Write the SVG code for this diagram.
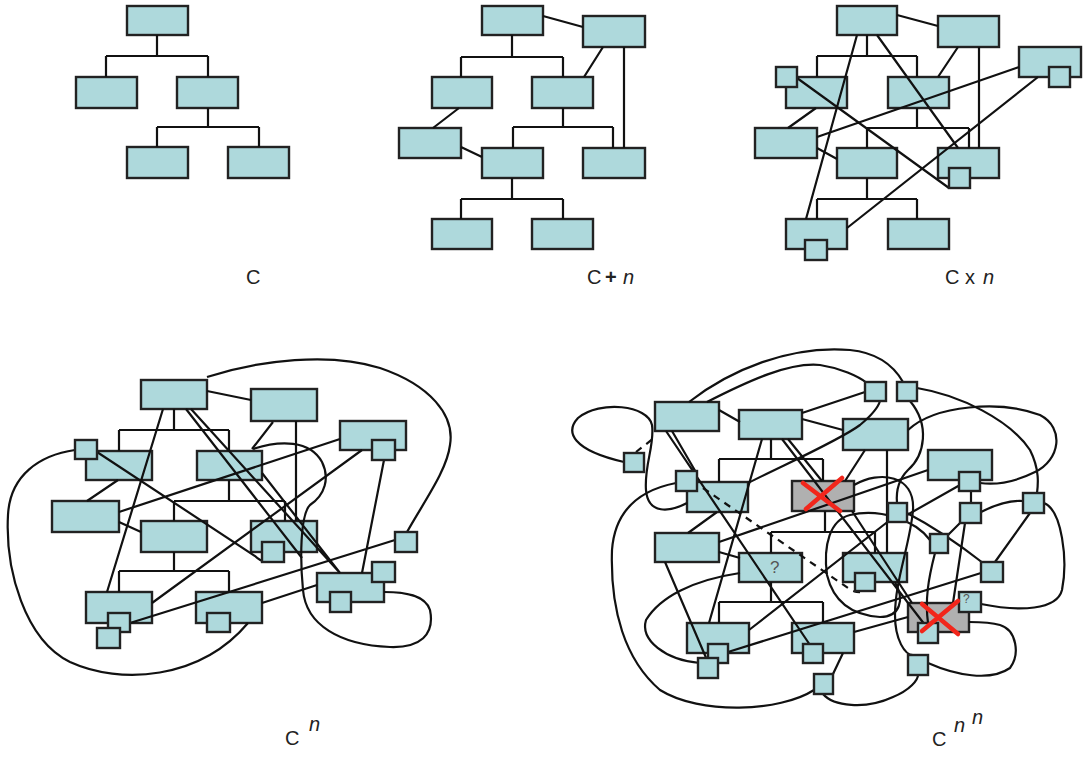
<svg xmlns="http://www.w3.org/2000/svg" width="1086" height="758" viewBox="0 0 1086 758">
<style>
.n{fill:#aed9dc;stroke:#222;stroke-width:2.4}
.g{fill:#b0b0b0;stroke:#222;stroke-width:2.4}
.c path{fill:none;stroke:#111;stroke-width:2.2}
.c .d{stroke-dasharray:7 6}
.x{stroke:#f2261b;stroke-width:4.5;stroke-linecap:round;fill:none}
.lbl{font-family:"Liberation Sans",Arial,sans-serif;font-size:20px;fill:#222}
.q{font-family:"Liberation Sans",Arial,sans-serif;fill:#555}
</style>
<rect width="1086" height="758" fill="#fff"/>

<!-- Panel 1 -->
<g id="p1-root"><rect class="n" x="127" y="6" width="61" height="29"/></g>
<g id="p1-a"><rect class="n" x="76" y="77" width="61" height="31"/></g>
<g id="p1-b"><rect class="n" x="177" y="77" width="61" height="31"/></g>
<g id="p1-c"><rect class="n" x="127" y="147" width="61" height="31"/></g>
<g id="p1-d"><rect class="n" x="228" y="147" width="61" height="31"/></g>

<!-- Panel 2 -->
<g id="p2-root"><rect class="n" x="482" y="6" width="61" height="29"/></g>
<g id="p2-tr"><rect class="n" x="583" y="16" width="62" height="31"/></g>
<g id="p2-lm"><rect class="n" x="432" y="77" width="60" height="31"/></g>
<g id="p2-rm"><rect class="n" x="532" y="77" width="61" height="31"/></g>
<g id="p2-l"><rect class="n" x="399" y="128" width="62" height="30"/></g>
<g id="p2-c"><rect class="n" x="482" y="148" width="61" height="30"/></g>
<g id="p2-r"><rect class="n" x="583" y="148" width="62" height="30"/></g>
<g id="p2-bl"><rect class="n" x="432" y="219" width="60" height="30"/></g>
<g id="p2-br"><rect class="n" x="532" y="219" width="61" height="30"/></g>

<!-- Panel 3 boxes -->
<g id="p3-root"><rect class="n" x="837" y="6" width="60" height="29"/></g>
<g id="p3-tr"><rect class="n" x="938" y="16" width="61" height="31"/></g>
<g id="p3-fr"><rect class="n" x="1019" y="47" width="62" height="30"/></g>
<g id="p3-lm"><rect class="n" x="786" y="77" width="61" height="31"/></g>
<g id="p3-rm"><rect class="n" x="888" y="77" width="61" height="31"/></g>
<g id="p3-l"><rect class="n" x="755" y="128" width="62" height="30"/></g>
<g id="p3-c"><rect class="n" x="837" y="148" width="60" height="30"/></g>
<g id="p3-r"><rect class="n" x="938" y="148" width="61" height="30"/></g>
<g id="p3-bl"><rect class="n" x="786" y="219" width="61" height="30"/></g>
<g id="p3-br"><rect class="n" x="888" y="219" width="61" height="30"/></g>

<!-- Panel 4 boxes -->
<g id="p4-root"><rect class="n" x="141" y="380" width="66" height="29"/></g>
<g id="p4-tr"><rect class="n" x="251" y="389" width="66" height="32"/></g>
<g id="p4-fr"><rect class="n" x="340" y="421" width="66" height="29"/></g>
<g id="p4-lm"><rect class="n" x="86" y="451" width="66" height="29"/></g>
<g id="p4-rm"><rect class="n" x="197" y="451" width="65" height="29"/></g>
<g id="p4-l"><rect class="n" x="52" y="501" width="67" height="31"/></g>
<g id="p4-c"><rect class="n" x="141" y="521" width="66" height="31"/></g>
<g id="p4-r"><rect class="n" x="251" y="521" width="66" height="31"/></g>
<g id="p4-bl"><rect class="n" x="86" y="592" width="66" height="31"/></g>
<g id="p4-br"><rect class="n" x="196" y="592" width="66" height="31"/></g>
<g id="p4-fb"><rect class="n" x="317" y="573" width="67" height="29"/></g>

<!-- Panel 5 boxes -->
<g id="p5-b1"><rect class="n" x="655" y="402" width="64" height="29"/></g>
<g id="p5-b2"><rect class="n" x="739" y="410" width="63" height="29"/></g>
<g id="p5-b3"><rect class="n" x="843" y="419" width="65" height="31"/></g>
<g id="p5-b4"><rect class="n" x="928" y="450" width="64" height="30"/></g>
<g id="p5-b5"><rect class="n" x="687" y="482" width="61" height="30"/></g>
<g id="p5-x1"><rect class="g" x="792" y="481" width="62" height="30"/></g>
<g id="p5-b6"><rect class="n" x="655" y="533" width="64" height="29"/></g>
<g id="p5-b7"><rect class="n" x="739" y="553" width="63" height="29"/><text class="q" x="770" y="573" font-size="17">?</text></g>
<g id="p5-b8"><rect class="n" x="843" y="553" width="64" height="29"/></g>
<g id="p5-b9"><rect class="n" x="687" y="623" width="62" height="30"/></g>
<g id="p5-b10"><rect class="n" x="792" y="623" width="62" height="30"/></g>
<g id="p5-x2"><rect class="g" x="908" y="603" width="61" height="29"/></g>

<g class="c" id="connectors">
<!-- panel 1 -->
<path d="M157,35V56M106,56H208M106,56V77M208,56V77M208,108V127M157,127H259M157,127V147M259,127V147"/>
<!-- panel 2 -->
<path d="M512,35V57M461,57H563M461,57V77M563,57V77M563,108V127M513,127H613M513,127V148M613,127V148M512,178V199M461,199H563M461,199V219M563,199V219"/>
<path d="M543,16L583,27M603,47L584,77M624,47V148M459,108L433,128M461,147L482,157"/>
<!-- panel 3 -->
<path d="M867,35V56M817,56H917M817,56V77M917,56V77M917,108V128M867,128H969M867,128V148M969,128V148M867,178V199M817,199H917M817,199V219M917,199V219"/>
<path d="M897,15L938,26M958,47L938,77M979,47V148M816,108L788,128M817,148L837,159"/>
<path d="M857,35L806,219M877,35L958,148M797,78L949,188M817,137L1019,67M847,228L1038,77"/>
<!-- panel 4 -->
<path d="M174,409V430M119,430H229M119,430V451M229,430V451M229,480V501M174,501H285M174,501V521M285,501V521M174,552V571M119,571H229M119,571V592M229,571V592"/>
<path d="M207,391L251,400M273,422L252,449M296,421V521M118,480L87,501M119,522L141,532"/>
<path d="M163,409L107,592M186,409L302,558M191,409L340,573M262,473L340,573"/>
<path d="M97,452L255,556Q260,561 266,562M119,512L340,439M152,603L362,450M384,460L362,573M130,623L395,540M262,603L317,585"/>
<path d="M207,377C260,360 330,352 380,368C430,385 455,415 450,445C447,470 425,500 407,532"/>
<path d="M75,450C40,455 10,475 8,515C5,570 25,640 70,662C120,685 200,680 248,623"/>
<path d="M253,449C280,440 310,440 322,462C330,478 325,495 310,505C300,515 300,560 303,590C306,625 340,645 390,647C420,648 435,635 430,610C425,595 405,592 384,592"/>
<!-- panel 5 tree -->
<path d="M771,439V459M719,459H823M719,459V482M823,459V481M825,511V532M771,532H875M771,532V553M875,532V553M887,450V553M771,582V602M719,602H823M719,602V623M823,602V623"/>
<!-- panel 5 links -->
<path d="M719,410L740,422M802,419L843,430M802,413L865,392"/>
<path d="M689,402C730,370 790,345 850,350C880,353 895,368 903,382"/>
<path d="M707,402C750,380 790,362 820,365C840,368 858,376 867,383"/>
<path d="M666,431L810,645M672,431L697,474M762,439L709,623M782,439L925,625M788,439L822,481M865,450L845,481M852,511L912,603"/>
<path d="M687,503C670,512 648,515 646,490C644,465 655,445 652,425C648,405 600,400 578,418C565,432 572,450 624,462"/>
<path class="d" d="M636,452L654,438"/>
<path d="M676,483C640,490 615,510 612,550C610,610 625,660 660,690C700,715 780,712 814,690"/>
<path class="d" d="M703,488L848,588Q855,593 862,592"/>
<path d="M717,512L688,533M719,542L928,470M719,552L740,558M665,562L707,660"/>
<path d="M748,483C790,462 840,440 860,425C872,415 878,408 880,401"/>
<path d="M740,573C693,580 660,597 646,620C640,640 665,660 700,663"/>
<path d="M749,630L890,520M728,652L981,573M854,632L908,617M843,653L833,674"/>
<path d="M823,694C833,706 865,710 893,697C910,690 918,680 918,675"/>
<path d="M928,663C955,675 990,682 1010,668C1020,655 1017,630 1000,625C990,622 978,622 969,622"/>
<path d="M854,485C880,470 915,475 913,510C910,545 895,580 895,615C895,640 905,655 913,655"/>
<path d="M908,430C935,405 1000,400 1040,415C1065,428 1060,460 1035,472C1015,482 995,485 980,483"/>
<path d="M917,388C960,395 1010,420 1030,450C1040,470 1038,485 1037,493"/>
<path d="M910,401C930,425 925,455 908,470C898,480 896,492 897,503"/>
<path d="M971,491V503M981,512C995,505 1010,500 1023,501M965,523L953,603M1030,513L995,562"/>
<path d="M1044,503C1062,510 1068,560 1062,590C1057,610 1020,612 981,604"/>
<path d="M907,513C930,525 960,545 983,563M960,485L907,515M962,521L948,535"/>
<path d="M930,540C915,520 880,508 850,515C830,520 823,545 827,575C833,600 850,615 880,617C900,617 905,600 895,582"/>
<path d="M935,553C928,580 925,600 928,623"/>
</g>

<!-- small square nodes -->
<g id="p3-fr-s"><rect class="n" x="1049" y="67" width="21" height="20"/></g>
<g id="p3-lm-s"><rect class="n" x="776" y="67" width="21" height="20"/></g>
<g id="p3-r-s"><rect class="n" x="949" y="168" width="21" height="20"/></g>
<g id="p3-bl-s"><rect class="n" x="805" y="240" width="22" height="20"/></g>

<g id="p4-fr-s"><rect class="n" x="372" y="440" width="23" height="20"/></g>
<g id="p4-lm-s"><rect class="n" x="75" y="440" width="22" height="19"/></g>
<g id="p4-r-s"><rect class="n" x="262" y="542" width="22" height="20"/></g>
<g id="p4-bl-s1"><rect class="n" x="108" y="613" width="22" height="19"/></g>
<g id="p4-bl-s2"><rect class="n" x="97" y="628" width="23" height="20"/></g>
<g id="p4-br-s"><rect class="n" x="207" y="613" width="23" height="19"/></g>
<g id="p4-fb-s1"><rect class="n" x="372" y="562" width="23" height="20"/></g>
<g id="p4-fb-s2"><rect class="n" x="330" y="592" width="21" height="20"/></g>
<g id="p4-iso"><rect class="n" x="395" y="532" width="22" height="20"/></g>

<g id="p5-s1"><rect class="n" x="865" y="382" width="21" height="19"/></g>
<g id="p5-s2"><rect class="n" x="897" y="382" width="20" height="19"/></g>
<g id="p5-b4-s"><rect class="n" x="959" y="472" width="21" height="19"/></g>
<g id="p5-fl"><rect class="n" x="624" y="453" width="20" height="19"/></g>
<g id="p5-b5-s"><rect class="n" x="676" y="471" width="21" height="20"/></g>
<g id="p5-s3"><rect class="n" x="888" y="503" width="19" height="19"/></g>
<g id="p5-s4"><rect class="n" x="960" y="503" width="21" height="20"/></g>
<g id="p5-s5"><rect class="n" x="1023" y="493" width="21" height="20"/></g>
<g id="p5-s6"><rect class="n" x="930" y="534" width="18" height="19"/></g>
<g id="p5-s7"><rect class="n" x="981" y="562" width="22" height="20"/></g>
<g id="p5-b8-s"><rect class="n" x="855" y="573" width="20" height="18"/></g>
<g id="p5-b9-s1"><rect class="n" x="708" y="644" width="20" height="19"/></g>
<g id="p5-b9-s2"><rect class="n" x="698" y="658" width="20" height="20"/></g>
<g id="p5-b10-s"><rect class="n" x="803" y="644" width="20" height="19"/></g>
<g id="p5-s8"><rect class="n" x="814" y="674" width="19" height="20"/></g>
<g id="p5-x2-s1"><rect class="n" x="959" y="592" width="22" height="20"/><text class="q" x="963" y="603" font-size="12">?</text></g>
<g id="p5-x2-s2"><rect class="n" x="918" y="623" width="20" height="20"/></g>
<g id="p5-s9"><rect class="n" x="908" y="655" width="20" height="20"/></g>

<!-- red crosses -->
<g id="p5-x1-cross"><path class="x" d="M803,483L840,511M842,478L806,509"/></g>
<g id="p5-x2-cross"><path class="x" d="M922,604L958,634M958,601L922,631"/></g>

<!-- labels -->
<text class="lbl" x="246" y="284">C</text>
<text class="lbl" y="284"><tspan x="587">C</tspan><tspan x="605" font-weight="bold">+</tspan><tspan x="623" font-style="italic">n</tspan></text>
<text class="lbl" y="284"><tspan x="945">C</tspan><tspan x="965">x</tspan><tspan x="983" font-style="italic">n</tspan></text>
<text class="lbl" x="285" y="745">C</text>
<text class="lbl" x="309" y="731" font-size="13" font-style="italic">n</text>
<text class="lbl" x="932" y="746">C</text>
<text class="lbl" x="954" y="732" font-size="13" font-style="italic">n</text>
<text class="lbl" x="972" y="724" font-size="10" font-style="italic">n</text>
</svg>
